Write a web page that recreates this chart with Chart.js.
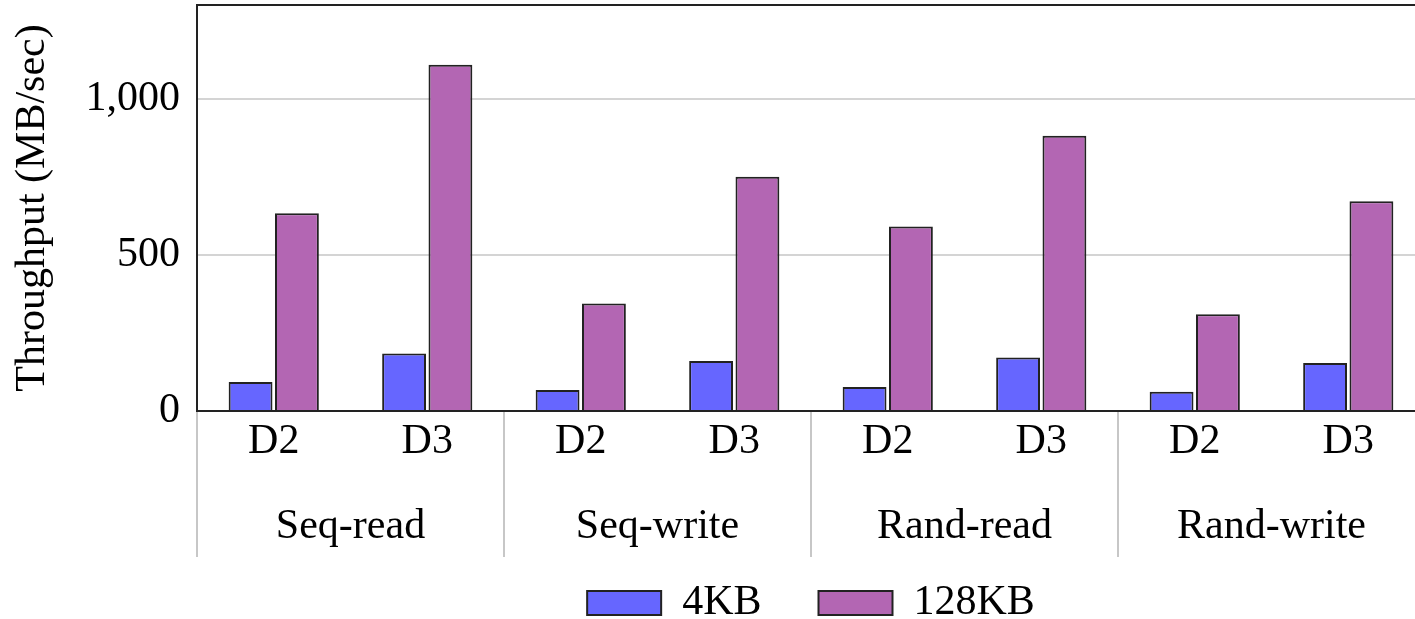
<!DOCTYPE html>
<html>
<head>
<meta charset="utf-8">
<script src="https://cdn.jsdelivr.net/npm/chart.js@4/dist/chart.umd.min.js"></script>
<style>
  html, body { margin: 0; padding: 0; overflow: hidden; background: #fff; }
  #wrap { width: 1415px; height: 619px; overflow: hidden; }
  canvas { display: block; }
</style>
</head>
<body>
<div id="wrap"><canvas id="c" width="1425" height="634"></canvas></div>
<script>
const categories = ['D2', 'D3', 'D2', 'D3', 'D2', 'D3', 'D2', 'D3'];
const groups = ['Seq-read', 'Seq-write', 'Rand-read', 'Rand-write'];
const kb4 = [93, 184, 67, 160, 77, 171, 62, 154];
const kb128 = [633, 1109, 344, 750, 591, 881, 310, 672];
const yTicks = [0, 500, 1000];
const seriesNames = ['4KB', '128KB'];

const FONT = '"Liberation Serif", "Times New Roman", serif';

const groupPlugin = {
  id: 'groupLabels',
  afterDraw(chart) {
    const ctx = chart.ctx;
    const xs = chart.scales.x;
    const area = chart.chartArea;
    const half = (xs.getPixelForValue(1) - xs.getPixelForValue(0)) / 2;
    ctx.save();
    // top frame line
    ctx.strokeStyle = '#222';
    ctx.lineWidth = 2;
    ctx.beginPath();
    ctx.moveTo(area.left, area.top);
    ctx.lineTo(area.right, area.top);
    ctx.stroke();
    // separators
    ctx.strokeStyle = '#b4b4b4';
    ctx.lineWidth = 1.5;
    for (let g = 0; g <= groups.length; g++) {
      const x = xs.getPixelForValue(Math.min(g * 2, categories.length - 1)) + (g * 2 >= categories.length ? half : -half);
      ctx.beginPath();
      ctx.moveTo(x, area.bottom + 1);
      ctx.lineTo(x, 557);
      ctx.stroke();
    }
    // group labels
    ctx.fillStyle = '#000';
    ctx.font = '42px ' + FONT;
    ctx.textAlign = 'center';
    ctx.textBaseline = 'alphabetic';
    groups.forEach((name, g) => {
      const cx = (xs.getPixelForValue(g * 2) + xs.getPixelForValue(g * 2 + 1)) / 2;
      ctx.fillText(name, cx, 538);
    });
    ctx.restore();
  }
};

new Chart(document.getElementById('c'), {
  type: 'bar',
  data: {
    labels: categories,
    datasets: [
      { label: seriesNames[0], data: kb4, backgroundColor: '#6666ff', borderColor: '#222', borderWidth: 2 },
      { label: seriesNames[1], data: kb128, backgroundColor: '#b366b3', borderColor: '#222', borderWidth: 2 }
    ]
  },
  options: {
    responsive: false,
    animation: false,
    devicePixelRatio: 1,
    layout: { padding: { top: 5, left: 0, right: 0, bottom: 0 } },
    datasets: { bar: { categoryPercentage: 0.604, barPercentage: 0.946 } },
    plugins: {
      tooltip: { enabled: false },
      legend: {
        position: 'bottom',
        fullSize: false,
        labels: {
          boxWidth: 74, boxHeight: 24, padding: 57, color: '#000',
          font: { family: FONT, size: 42 }
        }
      }
    },
    scales: {
      x: {
        grid: { display: false, drawTicks: false },
        border: { display: true, color: '#222', width: 2 },
        ticks: { color: '#000', font: { family: FONT, size: 42 }, padding: 6, maxRotation: 0 },
        afterFit(scale) {
          scale.height = 114;
          scale.paddingLeft = 0; scale.paddingRight = 0;
        }
      },
      y: {
        min: 0, max: 1300,
        afterBuildTicks(scale) { scale.ticks = yTicks.map(v => ({ value: v })); },
        grid: { color: '#d4d4d4', lineWidth: 2, drawTicks: false },
        border: { display: true, color: '#222', width: 2 },
        ticks: {
          color: '#000', font: { family: FONT, size: 42 }, padding: 17,
          callback: v => Number(v).toLocaleString('en-US')
        },
        title: {
          display: true, text: 'Throughput (MB/sec)', color: '#000',
          font: { family: FONT, size: 42 }, padding: { top: 8, bottom: 0 }
        },
        afterFit(scale) {
          scale.width = 197;
          scale.paddingTop = 0; scale.paddingBottom = 0;
        }
      }
    }
  },
  plugins: [groupPlugin]
});
</script>
</body>
</html>
